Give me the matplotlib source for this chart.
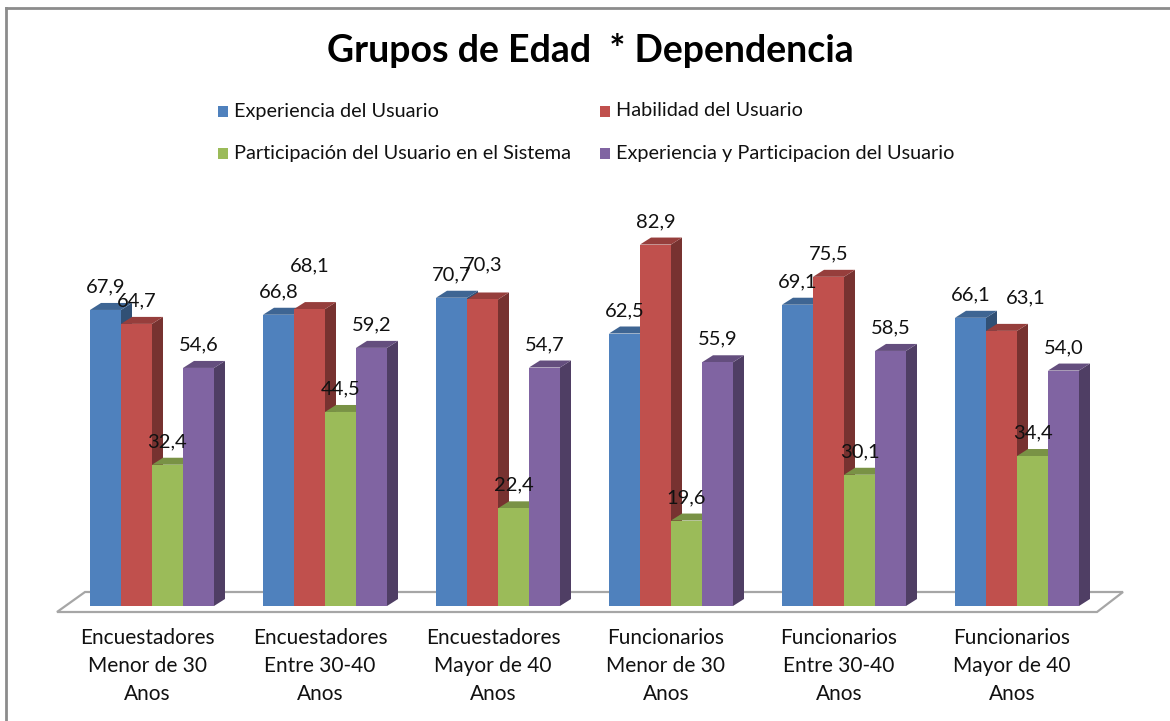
import matplotlib
matplotlib.use("Agg")
import matplotlib.pyplot as plt
from matplotlib.patches import Polygon, Rectangle
import matplotlib.colors as mcolors
import numpy as np

# ---------------- data ----------------
title = "Grupos de Edad  * Dependencia"
categories = [
    "Encuestadores\nMenor de 30\nAnos",
    "Encuestadores\nEntre 30-40\nAnos",
    "Encuestadores\nMayor de 40\nAnos",
    "Funcionarios\nMenor de 30\nAnos",
    "Funcionarios\nEntre 30-40\nAnos",
    "Funcionarios\nMayor de 40\nAnos",
]
series_names = [
    "Experiencia del Usuario",
    "Habilidad del Usuario",
    "Participación del Usuario en el Sistema",
    "Experiencia y Participacion del Usuario",
]
experiencia = [67.9, 66.8, 70.7, 62.5, 69.1, 66.1]
habilidad = [64.7, 68.1, 70.3, 82.9, 75.5, 63.1]
participacion = [32.4, 44.5, 22.4, 19.6, 30.1, 34.4]
exp_part = [54.6, 59.2, 54.7, 55.9, 58.5, 54.0]
series_values = [experiencia, habilidad, participacion, exp_part]
colors = ["#4F81BD", "#C0504D", "#9BBB59", "#8064A2"]

# ---------------- layout ----------------
W, H = 1170, 721
FONT = "Lato"
fig = plt.figure(figsize=(W / 100, H / 100), dpi=100)
fig.patch.set_facecolor("white")

px_per_group = 173.0
px_per_unit = 4.36
x0_px = 152.0   # pixel of group 0 centre
y0_px = 606.0   # pixel of value 0

ax = fig.add_axes([0, 0, 1, 1])
ax.set_xlim(-x0_px / px_per_group, (W - x0_px) / px_per_group)
ax.set_ylim(-(H - y0_px) / px_per_unit, y0_px / px_per_unit)
ax.axis("off")

def px_dx(p):
    return p / px_per_group

def px_dy(p):
    return p / px_per_unit

bar_w = px_dx(31)
depth_x = px_dx(11)
depth_y = px_dy(7)

def shade(c, f):
    r, g, b = mcolors.to_rgb(c)
    return (r * f, g * f, b * f)

# floor (3D base plane)
fl = px_dx(57) - x0_px / px_per_group
fr = px_dx(1097) - x0_px / px_per_group
floor = Polygon(
    [(fl, px_dy(-6)), (fr, px_dy(-6)),
     (fr + px_dx(26), px_dy(14)), (fl + px_dx(28), px_dy(14))],
    closed=True, facecolor="white", edgecolor="#A6A6A6", linewidth=1.6, zorder=1)
ax.add_patch(floor)

x = np.arange(len(categories))
n = len(series_values)
offsets = (np.arange(n) - (n - 1) / 2) * bar_w

# label nudges in pixels (dx, dy) for overlapping labels
nudges = {(1, 1): (0, 20), (2, 1): (0, 12), (5, 1): (24, 10)}

for s in range(n):
    vals = series_values[s]
    xs = x + offsets[s]
    ax.bar(xs, vals, width=bar_w, color=colors[s], edgecolor="none", zorder=10 + s * 3)
    for g, (xc, v) in enumerate(zip(xs, vals)):
        left, right = xc - bar_w / 2, xc + bar_w / 2
        side = Polygon([(right, 0), (right + depth_x, depth_y),
                        (right + depth_x, v + depth_y), (right, v)],
                       closed=True, facecolor=shade(colors[s], 0.62),
                       edgecolor="none", zorder=9 + s * 3)
        top = Polygon([(left, v), (right, v), (right + depth_x, v + depth_y),
                       (left + depth_x, v + depth_y)],
                      closed=True, facecolor=shade(colors[s], 0.78),
                      edgecolor="none", zorder=9 + s * 3)
        ax.add_patch(side)
        ax.add_patch(top)
        ndx, ndy = nudges.get((g, s), (0, 0))
        ax.text(xc + px_dx(ndx), v + px_dy(23 + ndy), f"{v:.1f}".replace(".", ","),
                ha="center", va="center", fontsize=14.5, family=FONT,
                color="#111111", zorder=40)

# category labels
for g, lab in enumerate(categories):
    ax.text(x[g] - px_dx(5), px_dy(-22), lab, ha="center", va="top",
            fontsize=15, family=FONT, linespacing=1.5, color="#111111")

# title
fig.text(590 / W, 1 - 51 / H, title, ha="center", va="center",
         fontsize=27, fontweight="bold", family=FONT, color="black")

# legend (manual, 2x2)
leg_pos = [(222, 111), (604, 111), (222, 153), (604, 153)]
for (lx, ly), name, c in zip(leg_pos, series_names, colors):
    fig.patches.append(Rectangle(((lx - 4) / W, 1 - (ly + 6) / H), 10 / W, 11 / H,
                                 transform=fig.transFigure, facecolor=c,
                                 edgecolor="none"))
    fig.text((lx + 12) / W, 1 - ly / H, name, ha="left", va="center",
             fontsize=14.3, family=FONT, color="#111111")

# chart border (top and left visible)
fig.add_artist(plt.Line2D([6 / W, 6 / W], [0, 1 - 8 / H], transform=fig.transFigure,
                          color="#8C8C8C", linewidth=2))
fig.add_artist(plt.Line2D([6 / W, 1], [1 - 8 / H, 1 - 8 / H], transform=fig.transFigure,
                          color="#8C8C8C", linewidth=2))

fig.savefig("out.png", dpi=100, facecolor="white")
